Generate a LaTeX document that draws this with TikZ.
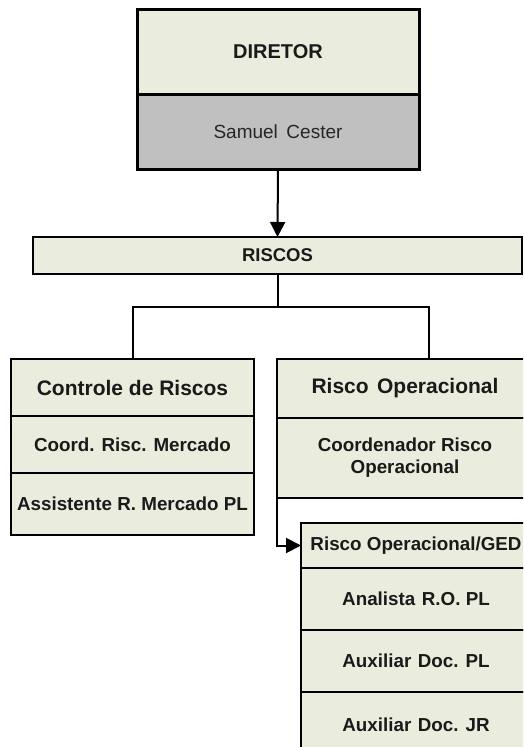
\documentclass[tikz,border=0pt]{standalone}
\usepackage{fontspec}
\setmainfont{Liberation Sans}
\usetikzlibrary{arrows.meta}
\definecolor{boxfill}{HTML}{EAEDDE}
\definecolor{grayfill}{HTML}{C0C0C0}
\definecolor{txtdark}{HTML}{1A1A1A}
\begin{document}
\begin{tikzpicture}[x=1pt,y=-1pt,
  box/.style={draw=black, fill=boxfill, line width=2pt, rectangle, anchor=north west,
    inner sep=0pt, outer sep=0pt, align=center, text=txtdark,
    font=\bfseries\fontsize{18.8}{22}\selectfont},
  head/.style={font=\bfseries\fontsize{21}{24}\selectfont},
  conn/.style={draw=black, line width=2pt},
  tip/.style={-{Triangle[length=15pt,width=15pt]}}]
\useasboundingbox (0,0) rectangle (523,747);
\clip (0,0) rectangle (523,747);
% director
\node[box, line width=3pt, minimum width=282pt, minimum height=85pt,
  font=\bfseries\fontsize{20}{22}\selectfont] (dir) at (137,9) {DIRETOR};
\node[box, fill=grayfill, line width=3pt, minimum width=282pt, minimum height=75pt,
  font=\fontsize{19}{22}\selectfont, text=black!85] (sam) at (137,94) {Samuel\hspace{0.45em}Cester};
% riscos
\node[box, minimum width=489pt, minimum height=37pt,
  font=\bfseries\fontsize{18.5}{20}\selectfont] (riscos) at (33,237) {RISCOS};
% left column
\node[box, head, minimum width=243pt, minimum height=57pt] (ctrl) at (11,359) {Controle de Riscos};
\node[box, minimum width=243pt, minimum height=57pt] (cmerc) at (11,416) {Coord. Risc. Mercado};
\node[box, minimum width=243pt, minimum height=62pt] (assist) at (11,473) {Assistente R. Mercado PL};
% right column
\node[box, head, minimum width=256pt, minimum height=59pt] (rop) at (277,359) {Risco\hspace{0.4em}Operacional};
\node[box, minimum width=256pt, minimum height=80pt] (coordop) at (277,418) {Coordenador Risco\\Operacional};
\node[box, minimum width=230pt, minimum height=45pt] (ged) at (301,523) {Risco Operacional/GED};
\node[box, minimum width=230pt, minimum height=62pt] (analista) at (301,568) {Analista\hspace{0.35em}R.O. PL};
\node[box, minimum width=230pt, minimum height=62pt] (auxpl) at (301,630) {Auxiliar\hspace{0.35em}Doc. PL};
\node[box, minimum width=230pt, minimum height=65pt] (auxjr) at (301,692) {Auxiliar\hspace{0.35em}Doc. JR};
\coordinate (ropt) at (429,359);
% connectors
\draw[conn, tip] (sam.south) -- (riscos.north);
\draw[conn] (riscos.south) -- ++(0,33) -| (ctrl.north);
\draw[conn] (riscos.south) -- ++(0,33) -| (ropt);
\draw[conn, tip] (coordop.south west) |- (ged.west);
\end{tikzpicture}
\end{document}
